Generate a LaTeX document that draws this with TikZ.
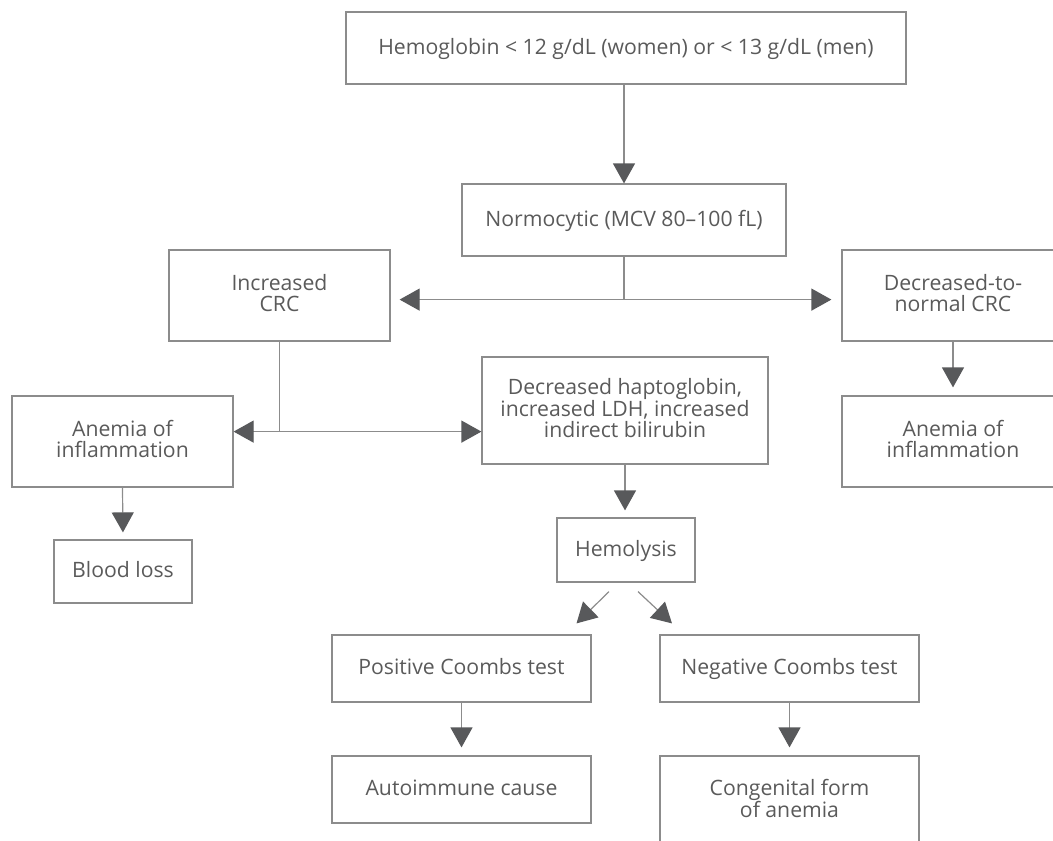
\documentclass[tikz,border=0pt]{standalone}
\usepackage{fontspec}
\setmainfont{Open Sans}
\usepackage{xcolor}
\usepackage{tikz}
\usetikzlibrary{arrows.meta, calc}
\definecolor{boxline}{HTML}{8C8C8C}
\definecolor{boxtext}{HTML}{5A5A5A}
\definecolor{headgray}{HTML}{58595B}
\newcommand{\boxstrut}{\rule[-5.5pt]{0pt}{23pt}}
\tikzset{every node/.append style={font=\fontsize{21.2}{21}\selectfont}}
\tikzset{
    box/.style={draw=boxline, line width=1.2pt, text=boxtext, align=center, inner sep=0pt,
        execute at begin node=\boxstrut, execute at end node=\boxstrut},
    link/.style={draw=boxline, line width=1.2pt},
}

\begin{document}
\begin{tikzpicture}[x=1pt, y=-1pt, >={Triangle[length=20pt, width=22pt, color=headgray]}]
    \clip (0,0) rectangle (1053,841);
    % boxes
    \node[box, minimum width=560pt, minimum height=72pt] (hgb) at (626,48) {Hemoglobin < 12 g/dL (women) or < 13 g/dL (men)};
    \node[box, minimum width=324pt, minimum height=72pt] (norm) at (624,220) {Normocytic (MCV 80–100 fL)};
    \node[box, minimum width=221pt, minimum height=91pt] (incr) at (279.5,295.5) {Increased\\CRC};
    \node[box, minimum width=222pt, minimum height=91pt] (decr) at (953,295.5) {Decreased-to-\\normal CRC};
    \node[box, minimum width=221pt, minimum height=91pt] (anL) at (122.5,441.5) {Anemia of\\inflammation};
    \node[box, minimum width=222pt, minimum height=91pt] (anR) at (953,441.5) {Anemia of\\inflammation};
    \node[box, minimum width=286pt, minimum height=107pt] (hapt) at (625,410.5) {Decreased haptoglobin,\\increased LDH, increased\\indirect bilirubin};
    \node[box, minimum width=138pt, minimum height=63pt] (blood) at (123,571.5) {Blood loss};
    \node[box, minimum width=138pt, minimum height=64pt] (hemo) at (626,550) {Hemolysis};
    \node[box, minimum width=259pt, minimum height=67pt] (pos) at (461.5,668.5) {Positive Coombs test};
    \node[box, minimum width=259pt, minimum height=67pt] (neg) at (789.5,668.5) {Negative Coombs test};
    \node[box, minimum width=259pt, minimum height=67pt] (auto) at (461.5,789.5) {Autoimmune cause};
    \node[box, minimum width=259pt, minimum height=90pt] (cong) at (789.5,801) {Congenital form\\of anemia};
    % top arrow
    \draw[link, ->] (norm.north |- hgb.south) -- (norm.north);
    % split under normocytic
    \draw[link] (norm.south) -- ++(0,43) coordinate (splitA);
    \draw[link, <->, shorten <=9pt, shorten >=10pt] (incr.east |- splitA) -- (decr.west |- splitA);
    % split under increased CRC
    \draw[link] (incr.south) -- ++(0,90) coordinate (splitB);
    \draw[link, <->] (anL.east |- splitB) -- (hapt.west |- splitB);
    % downward arrows
    \draw[link, ->, shorten >=8pt] (decr.south) -- (anR.north);
    \draw[link, ->, shorten >=7pt] (anL.south) -- (blood.north);
    \draw[link, ->, shorten >=7pt] (hapt.south) -- (hapt.south |- hemo.north);
    \draw[link, ->, shorten >=8pt] (pos.south) -- (auto.north);
    \draw[link, ->, shorten >=8pt] (neg.south) -- (cong.north);
    % coombs split
    \draw[link, ->] ([xshift=-17pt, yshift=-9pt]hemo.south) -- ([xshift=115pt, yshift=11pt]pos.north);
    \draw[link, ->] ([xshift=12pt, yshift=-9pt]hemo.south) -- ([xshift=-117.5pt, yshift=11pt]neg.north);
\end{tikzpicture}
\end{document}
